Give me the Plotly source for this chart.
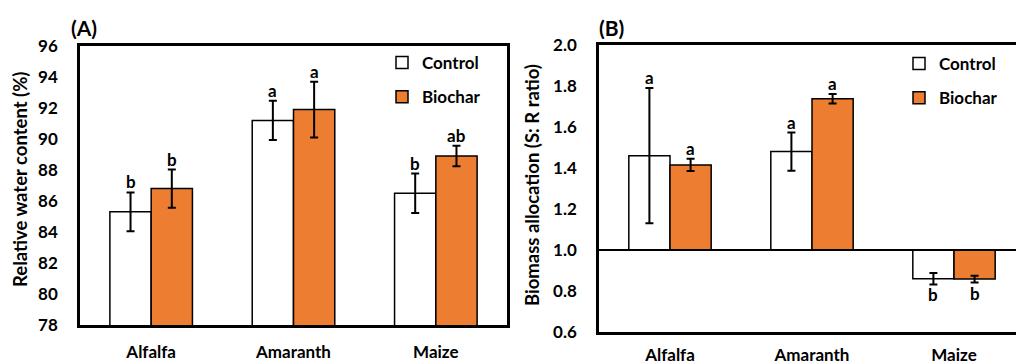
import plotly.graph_objects as go

categories = ["Alfalfa", "Amaranth", "Maize"]
series_names = ["Control", "Biochar"]

rwc_control = [85.3, 91.2, 86.5]
rwc_control_err = [1.25, 1.27, 1.27]
rwc_biochar = [86.8, 91.9, 88.9]
rwc_biochar_err = [1.23, 1.8, 0.66]
rwc_control_letters = ["b", "a", "b"]
rwc_biochar_letters = ["b", "a", "ab"]

sr_control = [1.46, 1.48, 0.86]
sr_control_err = [0.33, 0.093, 0.028]
sr_biochar = [1.415, 1.738, 0.858]
sr_biochar_err = [0.03, 0.023, 0.017]
sr_control_letters = ["a", "a", "b"]
sr_biochar_letters = ["a", "a", "b"]
sr_base = 1.0

rwc_ticks = [78, 80, 82, 84, 86, 88, 90, 92, 94, 96]
sr_ticks = [0.6, 0.8, 1.0, 1.2, 1.4, 1.6, 1.8, 2.0]

W, H = 1016, 364
FONT = "Lato"
ORANGE = "#ED7D31"
xs = list(range(len(categories)))
BARGAP = 0.42
half = (1 - BARGAP) / 4  # offset of each bar centre from category centre

fig = go.Figure()

def bar(x, y, err, name, color, xa, ya, legend, group, show, base=None):
    kw = {}
    if base is not None:
        kw["base"] = base
    fig.add_trace(go.Bar(
        x=x, y=y, name=name, xaxis=xa, yaxis=ya, legend=legend,
        legendgroup=group, showlegend=show,
        marker=dict(color=color, line=dict(color="black", width=1.5)),
        error_y=dict(type="data", array=err, color="black", thickness=2, width=4),
        **kw))

# Panel A
bar(xs, rwc_control, rwc_control_err, series_names[0], "white", "x", "y", "legend", "a_c", True)
bar(xs, rwc_biochar, rwc_biochar_err, series_names[1], ORANGE, "x", "y", "legend", "a_b", True)
# Panel B (bars start at 1.0)
bar(xs, [v - sr_base for v in sr_control], sr_control_err, series_names[0], "white", "x2", "y2", "legend2", "b_c", True, base=sr_base)
bar(xs, [v - sr_base for v in sr_biochar], sr_biochar_err, series_names[1], ORANGE, "x2", "y2", "legend2", "b_b", True, base=sr_base)

ann = []
lf = dict(family=FONT, size=17, color="black", weight="bold")
for i in xs:
    ann.append(dict(x=i - half, y=rwc_control[i] + rwc_control_err[i], xref="x", yref="y",
                    text=rwc_control_letters[i], showarrow=False, yanchor="bottom", font=lf, yshift=-2))
    ann.append(dict(x=i + half, y=rwc_biochar[i] + rwc_biochar_err[i], xref="x", yref="y",
                    text=rwc_biochar_letters[i], showarrow=False, yanchor="bottom", font=lf, yshift=-2))
    for vals, errs, letters, off in [(sr_control, sr_control_err, sr_control_letters, -half),
                                     (sr_biochar, sr_biochar_err, sr_biochar_letters, half)]:
        if vals[i] >= sr_base:
            ann.append(dict(x=i + off, y=vals[i] + errs[i], xref="x2", yref="y2",
                            text=letters[i], showarrow=False, yanchor="bottom", font=lf, yshift=-2))
        else:
            ann.append(dict(x=i + off, y=vals[i] - errs[i], xref="x2", yref="y2",
                            text=letters[i], showarrow=False, yanchor="top", font=lf, yshift=2))

# axis titles & panel labels
tf = dict(family=FONT, size=18.5, color="black", weight="bold")
ann.append(dict(x=20 / W, y=1 - 180 / H, xref="paper", yref="paper", text="Relative water content (%)",
                textangle=-90, showarrow=False, xanchor="center", yanchor="middle", font=tf))
ann.append(dict(x=532 / W, y=1 - 185 / H, xref="paper", yref="paper", text="Biomass allocation (S: R ratio)",
                textangle=-90, showarrow=False, xanchor="center", yanchor="middle", font=tf))
ann.append(dict(x=84 / W, y=1 - 28 / H, xref="paper", yref="paper", text="(A)", showarrow=False,
                xanchor="center", yanchor="middle", font=dict(family=FONT, size=21, color="black", weight="bold")))
ann.append(dict(x=611 / W, y=1 - 28 / H, xref="paper", yref="paper", text="(B)", showarrow=False,
                xanchor="center", yanchor="middle", font=dict(family=FONT, size=21, color="black", weight="bold")))

tickfont = dict(family=FONT, size=17, color="black", weight="bold")
common_x = dict(tickvals=xs, ticktext=categories, showline=True, linecolor="black", linewidth=2.5,
                mirror=True, ticks="", showgrid=False, zeroline=False, tickfont=tickfont,
                automargin=False, fixedrange=True)

legfont = dict(family=FONT, size=17, color="black", weight="bold")
fig.update_layout(
    width=W, height=H, margin=dict(l=0, r=0, t=0, b=0),
    paper_bgcolor="white", plot_bgcolor="white",
    barmode="group", bargap=BARGAP, bargroupgap=0,
    font=dict(family=FONT, color="black"),
    xaxis=dict(domain=[80 / W, 507 / W], range=[-0.5, 2.5], anchor="y", ticklabelstandoff=10, **common_x),
    yaxis=dict(domain=[1 - 325 / H, 1 - 46 / H], range=[78, 96], tickvals=rwc_ticks, anchor="x",
               showline=True, linecolor="black", linewidth=2.5, mirror=True, ticks="",
               showgrid=False, zeroline=False, tickfont=tickfont, ticklabelstandoff=16, automargin=False),
    xaxis2=dict(domain=[599 / W, 1.0], range=[-0.5, -0.5 + 417 / 142], anchor="y2", ticklabelstandoff=6, **common_x),
    yaxis2=dict(domain=[1 - 332 / H, 1 - 45 / H], range=[0.6, 2.0], tickvals=sr_ticks, tickformat=".1f",
                anchor="x2", showline=True, linecolor="black", linewidth=2.5, mirror=False, ticks="",
                showgrid=False, zeroline=False, tickfont=tickfont, ticklabelstandoff=16, automargin=False),
    legend=dict(x=382 / W, y=1 - 45 / H, xanchor="left", yanchor="top", bgcolor="rgba(0,0,0,0)",
                font=legfont, tracegroupgap=9, itemwidth=30, traceorder="grouped"),
    legend2=dict(x=899 / W, y=1 - 46 / H, xanchor="left", yanchor="top", bgcolor="rgba(0,0,0,0)",
                 font=legfont, tracegroupgap=9, itemwidth=30, traceorder="grouped"),
    annotations=ann,
    shapes=[dict(type="line", xref="x2 domain", yref="y2", x0=0, x1=1, y0=sr_base, y1=sr_base,
                 line=dict(color="black", width=2))],
)

fig.write_html("out.html", config={"displayModeBar": False},
               post_script="document.body.style.margin='0';document.body.style.padding='0';document.body.style.overflow='hidden';")
